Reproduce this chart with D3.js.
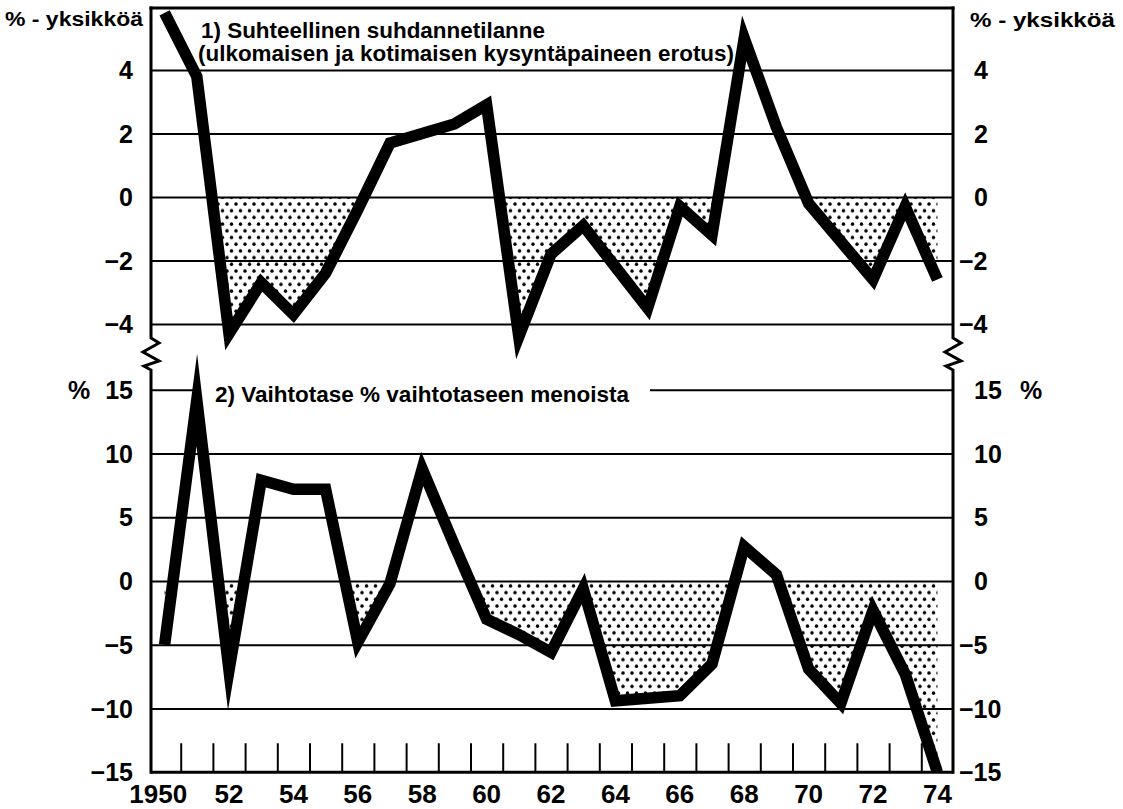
<!DOCTYPE html>
<html><head><meta charset="utf-8">
<script src="https://cdn.jsdelivr.net/npm/d3@7"></script>
<style>html,body{margin:0;padding:0;background:#fff;} svg{display:block;}</style>
</head><body><svg id="c" width="1123" height="809"></svg>
<script>
// ---------- data ----------
const years = [1950,1951,1952,1953,1954,1955,1956,1957,1958,1959,1960,1961,1962,
               1963,1964,1965,1966,1967,1968,1969,1970,1971,1972,1973,1974];
// 1) Suhteellinen suhdannetilanne (%-yksikköä)
const relativeCycle = [5.8,3.8,-4.3,-2.7,-3.7,-2.4,-0.4,1.7,2.0,2.3,2.9,-4.4,-1.8,
                       -0.9,-2.2,-3.5,-0.3,-1.2,5.0,2.2,-0.2,-1.4,-2.6,-0.3,-2.6];
// 2) Vaihtotase % vaihtotaseen menoista
const currentAccount = [-5,14.2,-7,7.9,7.2,7.2,-4.8,-0.2,8.8,2.8,-3.0,-4.2,-5.6,
                        -0.6,-9.4,-9.2,-9.0,-6.5,2.7,0.5,-6.9,-9.6,-2.3,-7.3,-15];
const yearLabelYears = [1950,1952,1954,1956,1958,1960,1962,1964,1966,1968,1970,1972,1974];
const yearLabelTexts = ["1950","52","54","56","58","60","62","64","66","68","70","72","74"];
const topTicks = [4,2,0,-2,-4];
const bottomTicks = [15,10,5,0,-5,-10,-15];
const topTitle = ["1) Suhteellinen suhdannetilanne","(ulkomaisen ja kotimaisen kysyntäpaineen erotus)"];
const bottomTitle = "2) Vaihtotase % vaihtotaseen menoista";
const unitTop = "% - yksikköä";
const unitBottom = "%";

// ---------- layout ----------
const svg = d3.select("#c");
const L = 151, R = 953, T = 8;
const font = "'Liberation Sans', Arial, Helvetica, sans-serif";
const x = d3.scaleLinear().domain([1950,1974]).range([164.6,937.4]);
const yT = d3.scaleLinear().domain([0,4]).range([197,70]);
const yB = d3.scaleLinear().domain([0,15]).range([581,389.75]);
const B = yB(-15);
const topBottom = 362, botTop = 340;

const topData = years.map((yr,i)=>({year:yr, v:relativeCycle[i]}));
const botData = years.map((yr,i)=>({year:yr, v:currentAccount[i]}));

// ---------- defs ----------
const defs = svg.append("defs");
const pat = defs.append("pattern").attr("id","dots").attr("patternUnits","userSpaceOnUse")
  .attr("width",9).attr("height",13.4);
pat.append("circle").attr("cx",2).attr("cy",3).attr("r",1.7).attr("fill","#000");
pat.append("circle").attr("cx",6.5).attr("cy",9.7).attr("r",1.7).attr("fill","#000");
function clip(id,x0,y0,x1,y1){
  defs.append("clipPath").attr("id",id).append("rect")
    .attr("x",x0).attr("y",y0).attr("width",x1-x0).attr("height",y1-y0);
}
clip("topLine", L, T+1.5, R, topBottom);
clip("topNeg", L, yT(0), R, topBottom);
clip("botLine", L, botTop, R, B);
clip("botNeg", L, yB(0), R, B);

// ---------- gridlines ----------
const gT = svg.append("g").attr("transform",`translate(${L},0)`)
  .call(d3.axisRight(yT).tickValues(topTicks).tickSize(R-L).tickFormat(""));
const gB = svg.append("g").attr("transform",`translate(${L},0)`)
  .call(d3.axisRight(yB).tickValues(bottomTicks.filter(v=>v>-15)).tickSize(R-L).tickFormat(""));
[gT,gB].forEach(g=>{
  g.select(".domain").remove();
  g.selectAll(".tick line").attr("stroke","#000").attr("stroke-width",2);
});

// top border
svg.append("line").attr("x1",L-1.5).attr("x2",R+1.5).attr("y1",T).attr("y2",T)
  .attr("stroke","#000").attr("stroke-width",3);

// white box behind bottom title
svg.append("rect").attr("x",200).attr("y",yB(15)-12).attr("width",450).attr("height",24).attr("fill","#fff");

// ---------- fills ----------
const areaT = d3.area().x(d=>x(d.year)).y0(yT(0)).y1(d=>yT(d.v));
const areaB = d3.area().x(d=>x(d.year)).y0(yB(0)).y1(d=>yB(d.v));
svg.append("path").attr("d",areaT(topData)).attr("fill","url(#dots)").attr("clip-path","url(#topNeg)");
svg.append("path").attr("d",areaB(botData)).attr("fill","url(#dots)").attr("clip-path","url(#botNeg)");

// ---------- lines ----------
const lineT = d3.line().x(d=>x(d.year)).y(d=>yT(d.v));
const lineB = d3.line().x(d=>x(d.year)).y(d=>yB(d.v));
[[lineT(topData),"topLine"],[lineB(botData),"botLine"]].forEach(([d,c])=>{
  svg.append("path").attr("d",d).attr("fill","none").attr("stroke","#000")
    .attr("stroke-width",11.5).attr("stroke-linejoin","miter").attr("stroke-miterlimit",30)
    .attr("clip-path",`url(#${c})`);
});

// ---------- vertical axes with break marks ----------
function axisWithBreak(ax){
  const zz = [[0,338],[8,343],[-8,352],[8,361],[-7,366],[0,370]];
  const pts = [[ax,T-1.5]].concat(zz.map(p=>[ax+p[0],p[1]])).concat([[ax,B+1.5]]);
  svg.append("path").attr("d",d3.line()(pts)).attr("fill","none").attr("stroke","#000")
    .attr("stroke-width",3).attr("stroke-linejoin","miter");
}
axisWithBreak(L); axisWithBreak(R);

// ---------- bottom axis ----------
const halfYears = years.slice(0,-1).map(v=>v+0.5);
const gX = svg.append("g").attr("transform",`translate(0,${B})`)
  .call(d3.axisTop(x).tickValues(halfYears).tickSize(29).tickFormat(""));
gX.select(".domain").attr("d",`M${L},0H${R}`).attr("stroke","#000").attr("stroke-width",3);
gX.selectAll(".tick line").attr("stroke","#000").attr("stroke-width",2);

svg.selectAll("text.year").data(yearLabelYears).enter().append("text")
  .attr("class","year")
  .attr("x",(d,i)=> i===0 ? x(d)+22.5 : x(d))
  .attr("y",803)
  .attr("text-anchor",(d,i)=> i===0 ? "end" : "middle")
  .attr("font-family",font).attr("font-weight","bold").attr("font-size",26)
  .text((d,i)=>yearLabelTexts[i]);

// ---------- tick labels ----------
const fmt = v => v<0 ? "\u2212"+Math.abs(v) : String(v);
function labels(ticks, scale){
  svg.selectAll(null).data(ticks).enter().append("text")
    .attr("x",133).attr("y",d=>scale(d)).attr("dy","0.36em").attr("text-anchor","end")
    .attr("font-family",font).attr("font-weight","bold").attr("font-size",25)
    .text(fmt);
  svg.selectAll(null).data(ticks).enter().append("text")
    .attr("x",d=> d<0 ? 959 : 974).attr("y",d=>scale(d)).attr("dy","0.36em")
    .attr("font-family",font).attr("font-weight","bold").attr("font-size",25)
    .text(fmt);
}
labels(topTicks, yT);
labels(bottomTicks, yB);

// units
svg.append("text").attr("x",143).attr("y",26).attr("text-anchor","end")
  .attr("font-family",font).attr("font-weight","bold").attr("font-size",20)
  .attr("textLength",138).attr("lengthAdjust","spacingAndGlyphs").text(unitTop);
svg.append("text").attr("x",970).attr("y",27)
  .attr("font-family",font).attr("font-weight","bold").attr("font-size",20)
  .attr("textLength",145).attr("lengthAdjust","spacingAndGlyphs").text(unitTop);
svg.append("text").attr("x",68).attr("y",yB(15)).attr("dy","0.36em")
  .attr("font-family",font).attr("font-weight","bold").attr("font-size",25).text(unitBottom);
svg.append("text").attr("x",1020).attr("y",yB(15)).attr("dy","0.36em")
  .attr("font-family",font).attr("font-weight","bold").attr("font-size",25).text(unitBottom);

// ---------- titles ----------
svg.append("text").attr("x",201).attr("y",38)
  .attr("font-family",font).attr("font-weight","bold").attr("font-size",22)
  .attr("textLength",344).attr("lengthAdjust","spacingAndGlyphs").text(topTitle[0]);
svg.append("text").attr("x",198).attr("y",61)
  .attr("font-family",font).attr("font-weight","bold").attr("font-size",22)
  .attr("textLength",536).attr("lengthAdjust","spacingAndGlyphs").text(topTitle[1]);
svg.append("text").attr("x",215).attr("y",402)
  .attr("font-family",font).attr("font-weight","bold").attr("font-size",22)
  .attr("textLength",414).attr("lengthAdjust","spacingAndGlyphs").text(bottomTitle);
</script>
</body></html>
